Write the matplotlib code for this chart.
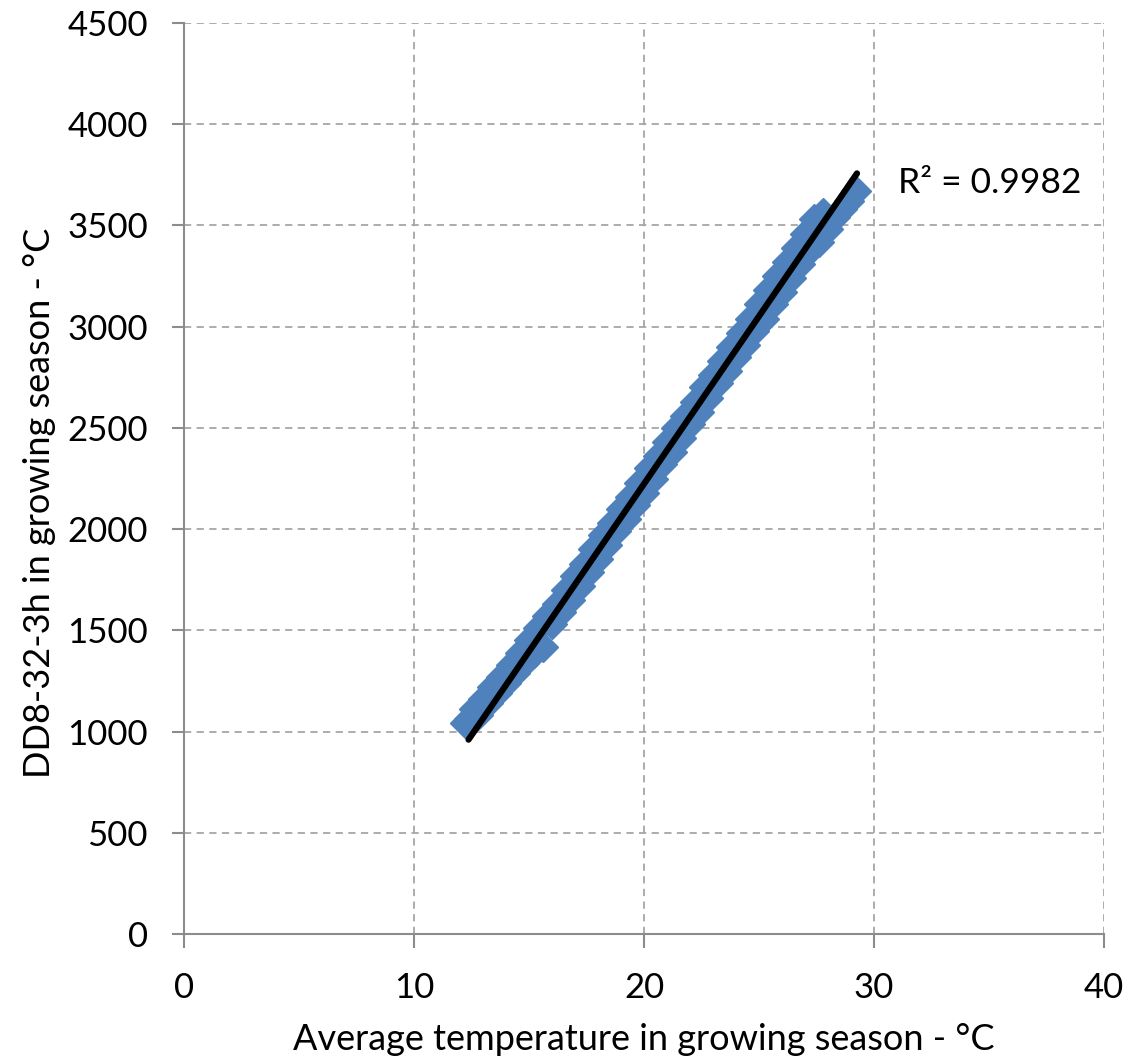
import matplotlib
matplotlib.use("Agg")
import matplotlib.pyplot as plt

# scatter (avg temperature, DD8-32-3h)
temp = [12.2, 12.4, 12.6, 12.8, 13.0, 13.2, 13.4, 13.6, 13.8, 14.0,
        14.2, 14.4, 14.6, 14.8, 15.0, 15.2, 15.4, 15.6, 15.8, 16.0,
        16.2, 16.4, 16.6, 16.8, 17.0, 17.2, 17.4, 17.6, 17.8, 18.0,
        18.2, 18.4, 18.6, 18.8, 19.0, 19.2, 19.4, 19.6, 19.8, 20.0,
        20.2, 20.4, 20.6, 20.8, 21.0, 21.2, 21.4, 21.6, 21.8, 22.0,
        22.2, 22.4, 22.6, 22.8, 23.0, 23.2, 23.4, 23.6, 23.8, 24.0,
        24.2, 24.4, 24.6, 24.8, 25.0, 25.2, 25.4, 25.6, 25.8, 26.0,
        26.2, 26.4, 26.6, 26.8, 27.0, 27.2, 27.4, 27.6, 27.8, 28.0,
        28.3, 28.6, 28.9, 29.2]
dd = [1040, 1060, 1110, 1080, 1160, 1140, 1220, 1190, 1270, 1240,
      1330, 1290, 1390, 1340, 1450, 1390, 1510, 1420, 1570, 1530,
      1630, 1590, 1700, 1650, 1770, 1720, 1830, 1790, 1900, 1850,
      1970, 1920, 2030, 1990, 2100, 2050, 2160, 2120, 2230, 2180,
      2300, 2250, 2360, 2320, 2430, 2380, 2500, 2450, 2560, 2520,
      2630, 2580, 2700, 2650, 2760, 2720, 2830, 2780, 2900, 2850,
      2970, 2910, 3040, 2980, 3110, 3040, 3180, 3110, 3250, 3170,
      3320, 3240, 3390, 3310, 3460, 3380, 3530, 3420, 3560, 3480,
      3540, 3580, 3620, 3670]

# linear trendline end points
trend_x = [12.37, 29.26]
trend_y = [960, 3757]
r2_text = "R\u00b2 = 0.9982"

xticks = [0, 10, 20, 30, 40]
yticks = [0, 500, 1000, 1500, 2000, 2500, 3000, 3500, 4000, 4500]

plt.rcParams['font.family'] = ['Lato', 'DejaVu Sans']

fig = plt.figure(figsize=(11.31, 10.64), dpi=100)
ax = fig.add_axes([184 / 1131, 130 / 1064, 920 / 1131, 911 / 1064])

ax.plot(temp, dd, linestyle='none', marker='D', markersize=15.5,
        color='#4F81BD', markeredgecolor='#4F81BD', zorder=3)
ax.plot(trend_x, trend_y, color='black', linewidth=4.5,
        solid_capstyle='round', zorder=4)

ax.text(31.03, 3710, r2_text, fontsize=25.5, ha='left', va='center')

ax.set_xlim(0, 40)
ax.set_ylim(0, 4500)
ax.set_xticks(xticks)
ax.set_yticks(yticks)
ax.tick_params(labelsize=25, colors='#8C8C8C', labelcolor='black',
               direction='out', width=1.5)
ax.tick_params(axis='x', length=10, pad=17)
ax.tick_params(axis='y', length=9, pad=17)

ax.grid(True, color='#A6A6A6', linestyle=(0, (4, 3)), linewidth=1.3)
ax.set_axisbelow(True)

for side in ['top', 'right']:
    ax.spines[side].set_visible(False)
for side in ['left', 'bottom']:
    ax.spines[side].set_color('#8C8C8C')
    ax.spines[side].set_linewidth(1.5)

ax.set_xlabel("Average temperature in growing season - \u00b0C", fontsize=26,
              va='center')
ax.set_ylabel("DD8-32-3h in growing season - \u00b0C", fontsize=26,
              va='center')
ax.xaxis.set_label_coords(0.5, -0.116)
ax.yaxis.set_label_coords(-0.157, 0.473)

fig.savefig("out.png", dpi=100)
